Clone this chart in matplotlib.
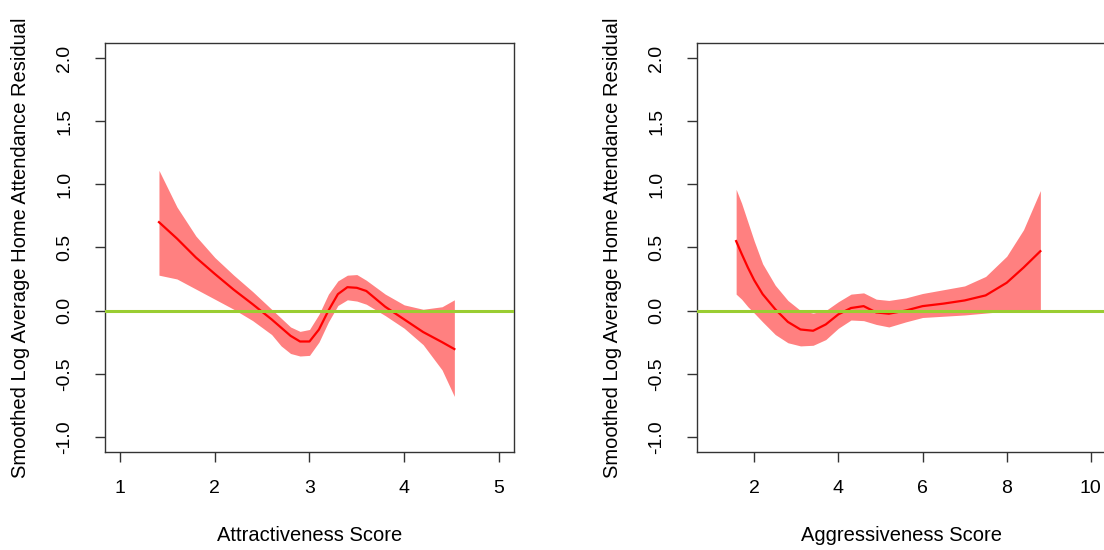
import matplotlib.pyplot as plt

plt.rcParams['font.family'] = ['Liberation Sans', 'DejaVu Sans']

# Attractiveness smooth (fit + band)
attr_x = [1.41, 1.6, 1.8, 2.0, 2.2, 2.4, 2.6, 2.7, 2.8, 2.9, 3.0, 3.1, 3.2, 3.3, 3.4, 3.5, 3.6, 3.8, 4.0, 4.2, 4.4, 4.53]
attr_fit = [0.70, 0.57, 0.42, 0.29, 0.165, 0.05, -0.07, -0.135, -0.20, -0.245, -0.245, -0.15, 0.0, 0.13, 0.185, 0.18, 0.155, 0.03, -0.07, -0.17, -0.25, -0.305]
attr_hi = [1.11, 0.82, 0.59, 0.42, 0.28, 0.15, 0.01, -0.06, -0.13, -0.165, -0.15, -0.03, 0.13, 0.235, 0.28, 0.285, 0.24, 0.13, 0.045, 0.01, 0.03, 0.085]
attr_lo = [0.28, 0.25, 0.17, 0.09, 0.01, -0.08, -0.19, -0.28, -0.34, -0.36, -0.355, -0.25, -0.09, 0.04, 0.085, 0.075, 0.05, -0.04, -0.14, -0.27, -0.47, -0.68]

# Aggressiveness smooth (fit + band)
aggr_x = [1.57, 1.7, 1.85, 2.0, 2.2, 2.5, 2.8, 3.1, 3.4, 3.7, 4.0, 4.3, 4.6, 4.9, 5.2, 5.6, 6.0, 6.5, 7.0, 7.5, 8.0, 8.4, 8.8]
aggr_fit = [0.55, 0.45, 0.34, 0.24, 0.13, 0.01, -0.09, -0.15, -0.16, -0.11, -0.03, 0.02, 0.035, -0.015, -0.025, 0.0, 0.035, 0.055, 0.08, 0.12, 0.22, 0.34, 0.47]
aggr_hi = [0.96, 0.85, 0.70, 0.55, 0.37, 0.20, 0.08, 0.0, -0.02, 0.0, 0.07, 0.13, 0.14, 0.09, 0.08, 0.10, 0.135, 0.165, 0.195, 0.27, 0.43, 0.64, 0.95]
aggr_lo = [0.13, 0.09, 0.03, -0.02, -0.09, -0.19, -0.255, -0.28, -0.275, -0.23, -0.14, -0.075, -0.08, -0.11, -0.13, -0.09, -0.055, -0.045, -0.035, -0.02, -0.005, 0.0, 0.005]

yticks = [-1.0, -0.5, 0.0, 0.5, 1.0, 1.5, 2.0]
ylab = 'Smoothed Log Average Home Attendance Residual'

panels = [
    (attr_x, attr_fit, attr_lo, attr_hi, (1, 5), [1, 2, 3, 4, 5], 'Attractiveness Score', 105),
    (aggr_x, aggr_fit, aggr_lo, aggr_hi, (1, 10), [2, 4, 6, 8, 10], 'Aggressiveness Score', 697),
]

fig = plt.figure(figsize=(11.04, 5.5), dpi=100)
W, H = 1104, 550

for x, fit, lo, hi, xl, xt, xlab, left in panels:
    ax = fig.add_axes([left / W, (H - 452) / H, 409 / W, (452 - 42.8) / H])
    ax.fill_between(x, lo, hi, color='#FF8080', lw=0, zorder=1)
    ax.plot(x, fit, color='red', lw=1.6, zorder=2)
    ax.axhline(0, color='#9ACD32', lw=2.2, zorder=3)
    pad = 0.04 * (xl[1] - xl[0])
    ax.set_xlim(xl[0] - pad, xl[1] + pad)
    ax.set_ylim(-1.12, 2.12)
    ax.set_xticks(xt)
    ax.set_xticklabels([str(v) for v in xt])
    ax.set_yticks(yticks)
    ax.set_yticklabels(['%.1f' % v for v in yticks], rotation=90, va='center')
    ax.tick_params(direction='out', length=7, width=1, colors='#333333', labelcolor='black',
                   labelsize=14)
    ax.tick_params(axis='x', pad=13)
    ax.tick_params(axis='y', pad=16)
    for s in ax.spines.values():
        s.set_color('#333333')
        s.set_linewidth(1)
    ax.set_xlabel(xlab, fontsize=14.5, labelpad=21)
    ax.set_ylabel(ylab, fontsize=14.5, labelpad=19)

fig.savefig('out.png', dpi=100)
